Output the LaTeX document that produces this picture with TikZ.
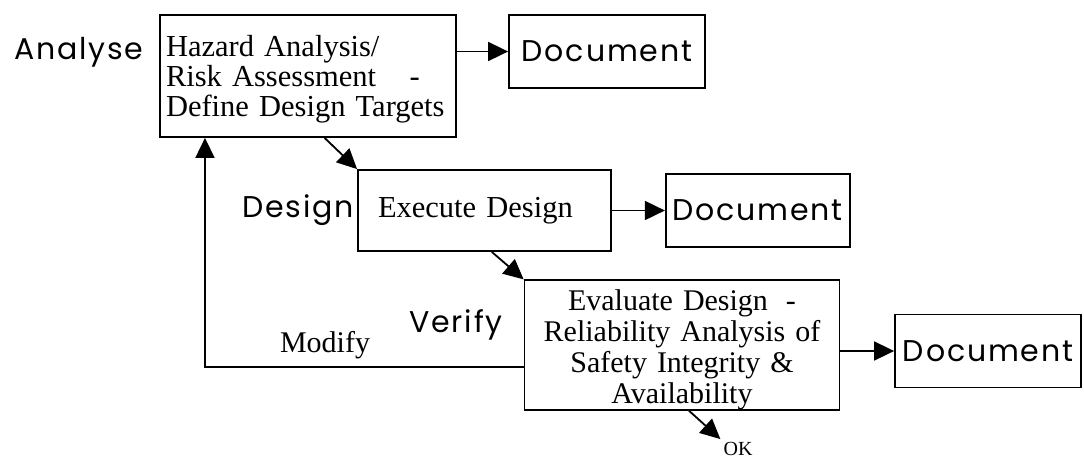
\documentclass[tikz,border=0pt]{standalone}
\usepackage{fontspec}
\setmainfont{Liberation Serif}
\newfontfamily\labelfont{Poppins}[LetterSpace=6]
\usetikzlibrary{arrows.meta, positioning}

\begin{document}
\begin{tikzpicture}[x=1pt, y=-1pt,
    stepbox/.style={draw, line width=1.8pt, inner ysep=0pt,
                    font=\fontsize{30.5}{30}\selectfont},
    docbox/.style={draw, line width=1.8pt, minimum height=73pt, inner sep=0pt,
                   font=\labelfont\fontsize{30}{34}\selectfont},
    phase/.style={font=\labelfont\fontsize{30}{34}\selectfont},
    arr/.style={-{Triangle[length=20pt, width=19pt]}, line width=1.8pt}
  ]
  \useasboundingbox (0,0) rectangle (1084,461);

  \node[stepbox, minimum width=296pt, minimum height=122pt, text width=284pt,
        inner xsep=6pt, align=left] (haz) at (308,76)
        {\rule{0pt}{27pt}Hazard Analysis/\\ Risk Assessment\hspace{1.1em}-\\ Define Design Targets};
  \node[stepbox, minimum width=253pt, minimum height=81pt, text width=213pt,
        inner xsep=20pt, align=left] (exe) at (484.5,210.5) {Execute Design};
  \node[stepbox, minimum width=315pt, minimum height=123pt, text width=303pt,
        inner xsep=6pt, align=center, font=\fontsize{30}{31}\selectfont] (eva) at (682,345)
        {\rule{0pt}{30pt}Evaluate Design\hspace{0.6em}-\\ Reliability Analysis of\\ Safety Integrity \&\\ Availability\hspace*{35pt}};

  \node[docbox, minimum width=196pt] (doc1) at (607,51.5) {Document};
  \node[docbox, minimum width=184pt, right=53pt of exe] (doc2) {Document};
  \node[docbox, minimum width=186pt] (doc3) at (988,351) {Document};

  \node[phase] (ana) at (79,52) {Analyse};
  \node[phase, left=0pt of exe] (des) {Design};
  \node[phase] (ver) at (456,325) {Verify};
  \node[font=\fontsize{30}{30}\selectfont] (mod) at (325,345) {Modify};
  \node[font=\fontsize{20}{20}\selectfont, inner sep=3pt] (ok) at (738,449) {OK};

  \draw[arr] (haz.east |- doc1.west) -- (doc1.west);
  \draw[arr] (exe) -- (doc2);
  \draw[arr] (eva.east |- doc3.west) -- (doc3.west);
  \draw[arr] (haz.-75) -- (exe.north west);
  \draw[arr] (exe.-80) -- (eva.north west);
  \draw[arr] (eva.-84) -- (ok.north west);
  \draw[arr] (eva.188) -| (haz.211);
\end{tikzpicture}
\end{document}
